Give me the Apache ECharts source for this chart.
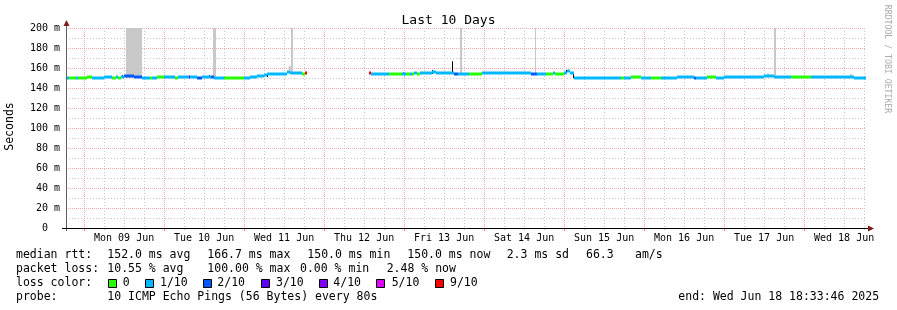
<!DOCTYPE html>
<html>
<head>
<meta charset="utf-8">
<title>Last 10 Days</title>
<script src="https://cdn.jsdelivr.net/npm/echarts@6/dist/echarts.min.js"></script>
<style>
html, body { margin: 0; padding: 0; background: #fff; }
#main { width: 897px; height: 310px; }
</style>
</head>
<body>
<div id="main"></div>
<script>
// x values are hours relative to Mon 09 Jun 00:00; window ends Wed Jun 18 18:33:46
var xMin = -5.4372;
var xMax = 234.5628;

var dayHours = [0, 24, 48, 72, 96, 120, 144, 168, 192, 216];
var sixHours = [6, 12, 18, 30, 36, 42, 54, 60, 66, 78, 84, 90, 102, 108, 114,
  126, 132, 138, 150, 156, 162, 174, 180, 186, 198, 204, 210, 222, 228, 234];
var dayLabelHours = [12, 36, 60, 84, 108, 132, 156, 180, 204, 228];
var dayLabels = ['Mon 09 Jun', 'Tue 10 Jun', 'Wed 11 Jun', 'Thu 12 Jun', 'Fri 13 Jun',
  'Sat 14 Jun', 'Sun 15 Jun', 'Mon 16 Jun', 'Tue 17 Jun', 'Wed 18 Jun'];

var lossLabels = ['0', '1/10', '2/10', '3/10', '4/10', '5/10', '9/10'];
var lossColors = ['#26ff00', '#00b8ff', '#0059ff', '#5e00ff', '#7e00ff', '#dd00ff', '#ff0000'];

// median rtt (ms), one step per row; loss = index into lossLabels
var medStart = [
  -5.44, -4.6, -2.5, -1.9, 0.8, 2.3, 5.9, 8.3, 9.5, 10.1,
  11.0, 11.9, 14.9, 17.3, 19.7, 20.3, 21.8, 23.9, 27.2, 28.1,
  31.4, 31.7, 33.8, 35.3, 38.0, 38.9, 41.9, 45.5, 47.9, 49.7,
  51.8, 53.9, 54.8, 60.8, 61.7, 65.3, 66.2, 66.8, 85.4, 86.0,
  89.3, 91.4, 95.3, 96.5, 97.7, 98.3, 98.9, 99.8, 100.7, 104.3,
  105.5, 110.9, 112.1, 115.4, 119.3, 134.0, 135.8, 138.5, 140.6, 141.2,
  143.9, 144.8, 145.7, 146.9, 161.0, 161.9, 164.0, 167.0, 170.0, 173.0,
  177.8, 182.9, 183.5, 186.8, 189.5, 191.9, 203.9, 206.9, 212.0, 218.0,
  224.0, 227.9, 230.9];
var medValue = [
  150, 150.5, 150, 150.5, 151.5, 150.5, 151, 150.5, 151, 150.5,
  151, 152, 151, 150.5, 150.5, 150.5, 151, 151, 150.5, 151,
  151, 151, 150.5, 151, 151, 150.5, 150, 150.5, 150.5, 151,
  152, 153, 154.5, 156, 155, 154.5, 155, null, 155, 154.5,
  154.5, 154, 154.5, 154.5, 154.5, 154.5, 155, 154.5, 155, 156,
  155, 154.5, 154.5, 154.5, 155, 154.5, 154.5, 154.5, 155, 154.5,
  155, 157, 155, 150.5, 150, 150, 151, 150, 150, 150,
  151, 150.5, 150.5, 151, 150.5, 151.5, 152, 151, 151.5, 151,
  151.5, 151, 150.5];
var medLoss = [
  1, 0, 1, 0, 0, 1, 1, 0, 1, 0,
  1, 2, 2, 1, 0, 1, 0, 1, 0, 1,
  3, 1, 2, 1, 2, 1, 0, 0, 1, 1,
  1, 1, 1, 1, 1, 0, 6, null, 6, 1,
  1, 0, 1, 0, 1, 0, 1, 0, 1, 1,
  1, 2, 1, 0, 1, 2, 1, 0, 1, 0,
  1, 1, 1, 1, 0, 1, 0, 1, 0, 1,
  1, 2, 1, 0, 1, 1, 1, 1, 0, 1,
  1, 1, 1];

// smoke (spread of the pings), hours and ms
var smokeStart = [12.5, 38.6, 61.4, 62.0, 112.7, 135.2, 204.8, 207.0, 229.9];
var smokeEnd = [17.3, 39.5, 62.0, 62.6, 113.3, 135.5, 205.4, 207.6, 230.5];
var smokeLow = [150, 151, 155, 155, 154, 154, 151, 151, 151];
var smokeHigh = [200, 200, 162, 200, 200, 200, 154.5, 200, 154];

// short median jumps
var spikeHours = [11.3, 37.4, 54.8, 61.3, 95.6, 104.3, 110.3, 144.5, 146.6, 203.9, 229.6];
var spikeLow = [151, 151, 151, 155, 153, 154, 154, 154, 150, 151, 150];
var spikeHigh = [153, 153, 155, 157, 155.5, 158, 166.7, 158, 155, 153, 152];

var statRows = [
  [['median rtt:', 16], ['152.0 ms avg', 107.3], ['166.7 ms max', 207.3], ['150.0 ms min', 307.3],
   ['150.0 ms now', 407.3], ['2.3 ms sd', 506.7], ['66.3', 586], ['am/s', 635]],
  [['packet loss:', 16], ['10.55 % avg', 107.3], ['100.00 % max', 207.3], ['0.00 % min', 300],
   ['2.48 % now', 386.7]],
  [['loss color:', 16]],
  [['probe:', 16], ['10 ICMP Echo Pings (56 Bytes) every 80s', 107.3],
   ['end: Wed Jun 18 18:33:46 2025', 678.3]]
];
var rowY = [255.5, 269.5, 283.5, 297.5];
var boxX = [108.5, 145.5, 203.5, 261.5, 319.5, 376.5, 435.5];
var boxTextX = [122.7, 160, 217.3, 276, 333.3, 391.7, 450];

var mono = '"DejaVu Sans Mono", monospace';
var majorGrid = '#f6a8a8';
var minorGrid = '#c8c8c8';

var medianData = [];
for (var i = 0; i < medStart.length; i++) {
  if (medValue[i] == null) continue;
  var end = i + 1 < medStart.length ? medStart[i + 1] : xMax;
  medianData.push([medStart[i], end, medValue[i], medLoss[i]]);
}
var smokeData = smokeStart.map(function (s, k) {
  return [s, smokeEnd[k], smokeLow[k], smokeHigh[k]];
});
var spikeData = spikeHours.map(function (h, k) {
  return [h, spikeLow[k], spikeHigh[k]];
});

var graphics = [
  {type: 'text', x: 10.5, y: 126.5, rotation: Math.PI / 2,
   style: {text: 'Seconds', font: '11.5px ' + mono, fill: '#000', align: 'center', verticalAlign: 'middle'}},
  {type: 'text', x: 887, y: 59, rotation: -Math.PI / 2,
   style: {text: 'RRDTOOL / TOBI OETIKER', font: '8.2px ' + mono, fill: '#aaa', align: 'center', verticalAlign: 'middle'}},
  {type: 'line', z: 100, shape: {x1: 66.5, y1: 25, x2: 66.5, y2: 231}, style: {stroke: '#606060', lineWidth: 1}},
  {type: 'line', z: 100, shape: {x1: 62, y1: 228.5, x2: 869, y2: 228.5}, style: {stroke: '#000', lineWidth: 1}},
  {type: 'polygon', z: 100, shape: {points: [[63.5, 26], [69.5, 26], [66.5, 20]]}, style: {fill: '#7f1a1a'}},
  {type: 'polygon', z: 100, shape: {points: [[868, 225.5], [868, 231.5], [874, 228.5]]}, style: {fill: '#7f1a1a'}}
];
statRows.forEach(function (row, r) {
  row.forEach(function (item) {
    graphics.push({type: 'text', x: item[1], y: rowY[r],
      style: {text: item[0], font: '11.5px ' + mono, fill: '#000', verticalAlign: 'middle'}});
  });
});
lossLabels.forEach(function (lab, k) {
  graphics.push({type: 'rect', shape: {x: boxX[k], y: 279.5, width: 8, height: 8},
    style: {fill: lossColors[k], stroke: '#000', lineWidth: 1}});
  graphics.push({type: 'text', x: boxTextX[k], y: rowY[2],
    style: {text: lab, font: '11.5px ' + mono, fill: '#000', verticalAlign: 'middle'}});
});

var option = {
  animation: false,
  backgroundColor: '#fff',
  title: {
    text: 'Last 10 Days', left: 'center', top: 9,
    textStyle: {fontFamily: mono, fontSize: 13, fontWeight: 'normal', color: '#000'}
  },
  grid: {left: 66, top: 28, width: 800, height: 200},
  xAxis: [{
    type: 'value', min: xMin, max: xMax,
    axisLine: {show: false},
    axisTick: {show: true, customValues: dayHours, length: 3, lineStyle: {color: '#f08080'}},
    axisLabel: {
      customValues: dayLabelHours, margin: 5,
      fontFamily: mono, fontSize: 10, color: '#000',
      formatter: function (v) { return dayLabels[Math.round((v - 12) / 24)]; }
    },
    splitLine: {show: true, lineStyle: {color: majorGrid, type: [1, 1]}},
    z: 2
  }, {
    type: 'value', min: xMin, max: xMax, position: 'bottom',
    axisLine: {show: false},
    axisLabel: {show: false},
    axisTick: {show: true, customValues: sixHours, length: 2, lineStyle: {color: minorGrid}},
    splitLine: {show: true, lineStyle: {color: minorGrid, type: [1, 2]}},
    z: 1
  }],
  yAxis: {
    type: 'value', min: 0, max: 200, interval: 20,
    axisLine: {show: false},
    axisTick: {show: false},
    axisLabel: {
      margin: 6, fontFamily: mono, fontSize: 10, color: '#000',
      formatter: function (v) { return v === 0 ? '0  ' : v + ' m'; }
    },
    splitLine: {show: true, lineStyle: {color: majorGrid, type: [1, 1]}},
    minorTick: {show: false, splitNumber: 2},
    minorSplitLine: {show: true, lineStyle: {color: minorGrid, type: [1, 2]}}
  },
  series: [{
    type: 'custom', name: 'smoke', xAxisIndex: 0,
    encode: {x: [0, 1], y: [2, 3]},
    data: smokeData,
    z: 3,
    renderItem: function (params, api) {
      var a = api.coord([api.value(0), api.value(3)]);
      var b = api.coord([api.value(1), api.value(2)]);
      var x0 = Math.round(a[0]);
      var w = Math.max(1, Math.round(b[0]) - x0);
      return {type: 'rect', shape: {x: x0, y: a[1], width: w, height: b[1] - a[1]},
        style: {fill: '#c8c8c8'}};
    }
  }, {
    type: 'custom', name: 'spikes', xAxisIndex: 0,
    encode: {x: 0, y: [1, 2]},
    data: spikeData,
    z: 4,
    renderItem: function (params, api) {
      var a = api.coord([api.value(0), api.value(1)]);
      var b = api.coord([api.value(0), api.value(2)]);
      var x = Math.round(a[0]) + 0.5;
      return {type: 'line', shape: {x1: x, y1: a[1], x2: x, y2: b[1]},
        style: {stroke: '#000', lineWidth: 1}};
    }
  }, {
    type: 'custom', name: 'median rtt', xAxisIndex: 0,
    encode: {x: [0, 1], y: 2},
    data: medianData,
    z: 5,
    renderItem: function (params, api) {
      var a = api.coord([api.value(0), api.value(2)]);
      var b = api.coord([api.value(1), api.value(2)]);
      var x0 = Math.round(a[0]);
      return {type: 'rect',
        shape: {x: x0, y: Math.round(a[1]) - 1.5, width: Math.max(1, Math.round(b[0]) - x0), height: 3},
        style: {fill: lossColors[api.value(3)]}};
    }
  }],
  graphic: graphics
};

var myChart = echarts.init(document.getElementById('main'));
myChart.setOption(option);
</script>
</body>
</html>
